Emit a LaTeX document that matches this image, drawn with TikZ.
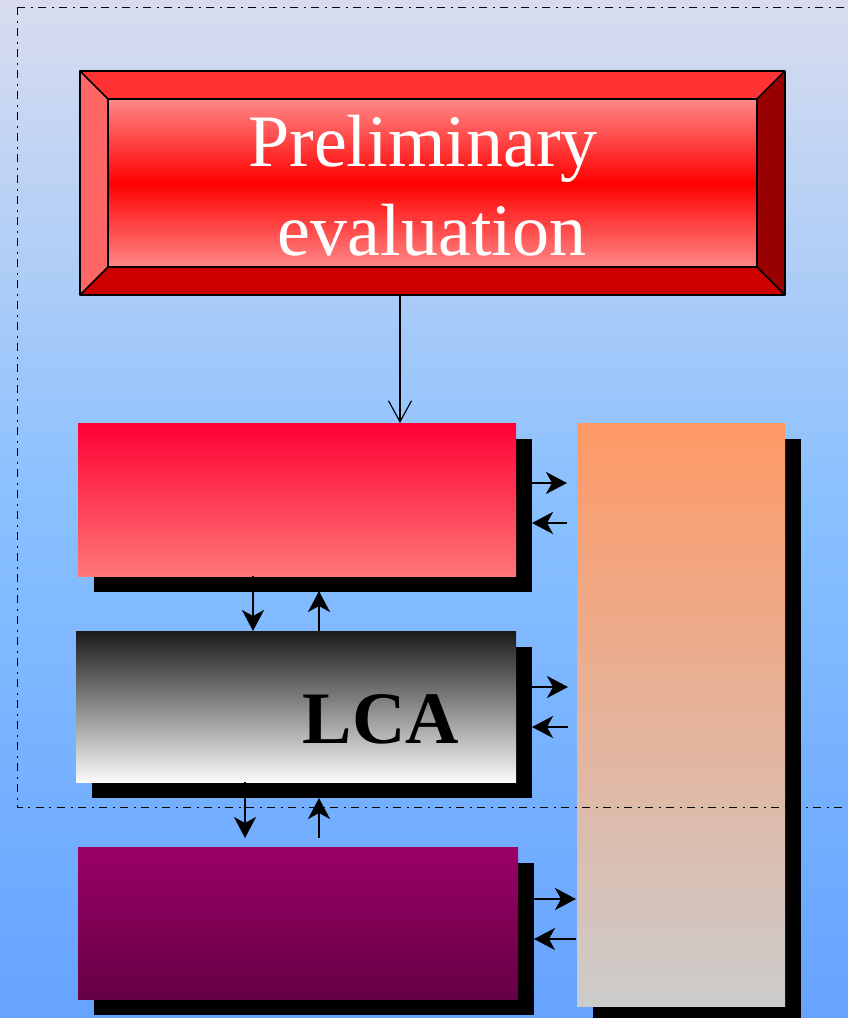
\documentclass[tikz,border=0pt]{standalone}
\usepackage{fontspec}
\setmainfont{Liberation Serif}
\usetikzlibrary{arrows.meta,shadows}
\definecolor{bgtop}{HTML}{D9DCEE}
\definecolor{bgmid}{HTML}{88C0FF}
\definecolor{bgbot}{HTML}{66A3FF}
\definecolor{bevtop}{HTML}{FF3333}
\definecolor{bevbot}{HTML}{CC0000}
\definecolor{bevleft}{HTML}{FF6666}
\definecolor{bevright}{HTML}{990000}
\definecolor{facelight}{HTML}{FF8888}
\definecolor{facemid}{HTML}{FF0000}
\definecolor{redtop}{HTML}{FF0033}
\definecolor{redbot}{HTML}{FF7777}
\definecolor{greytop}{HTML}{1A1A1A}
\definecolor{greybot}{HTML}{FAFAFA}
\definecolor{purptop}{HTML}{990066}
\definecolor{purpbot}{HTML}{660044}
\definecolor{orangetop}{HTML}{FF9966}
\definecolor{orangebot}{HTML}{CCCCCC}
\pgfdeclareverticalshading{bgshade}{100bp}{color(0bp)=(bgbot); color(25bp)=(bgbot); color(50bp)=(bgmid); color(75bp)=(bgtop); color(100bp)=(bgtop)}
\pgfdeclareverticalshading{faceshade}{100bp}{color(0bp)=(facelight); color(25bp)=(facelight); color(50bp)=(facemid); color(75bp)=(facelight); color(100bp)=(facelight)}
\tikzset{
  boxnode/.style={rectangle, inner sep=0pt, outer sep=0pt, anchor=north west,
    general shadow={fill=black, shadow xshift=16pt, shadow yshift=-16pt}},
  bigtext/.style={font=\fontsize{74}{89}\selectfont, inner sep=0pt, anchor=base},
  flow/.style={line width=2pt, -{Stealth[length=21pt, width=22pt, inset=6pt]}},
  bevline/.style={line width=1.5pt, line join=round},
  frame/.style={line width=0.9pt, dash pattern=on 8pt off 5.5pt on 2pt off 5.5pt}
}
\begin{document}
\begin{tikzpicture}[x=1pt, y=-1pt]
\useasboundingbox (0,0) rectangle (848,1018);
\shade[shading=bgshade] (0,0) rectangle (848,1018);

% bevelled button
\node[rectangle, inner sep=0pt, outer sep=0pt, anchor=north west, minimum width=705pt, minimum height=224pt] (prelim) at (80,71) {};
\node[rectangle, inner sep=0pt, outer sep=0pt, anchor=north west, minimum width=649pt, minimum height=168pt, shading=faceshade] (face) at (108,99) {};
\fill[bevtop] (prelim.north west) -- (prelim.north east) -- (face.north east) -- (face.north west) -- cycle;
\fill[bevbot] (prelim.south west) -- (prelim.south east) -- (face.south east) -- (face.south west) -- cycle;
\fill[bevleft] (prelim.north west) -- (face.north west) -- (face.south west) -- (prelim.south west) -- cycle;
\fill[bevright] (prelim.north east) -- (face.north east) -- (face.south east) -- (prelim.south east) -- cycle;
\draw[bevline] (prelim.north west) rectangle (prelim.south east);
\draw[bevline] (face.north west) rectangle (face.south east);
\draw[bevline] (prelim.north west) -- (face.north west);
\draw[bevline] (prelim.north east) -- (face.north east);
\draw[bevline] (prelim.south west) -- (face.south west);
\draw[bevline] (prelim.south east) -- (face.south east);
\node[bigtext, text=white] (t1) at (423,166) {Preliminary};
\node[bigtext, text=white] (t2) at (432,255) {evaluation};

% boxes
\node[boxnode, minimum width=438pt, minimum height=153pt, top color=redtop, bottom color=redbot] (box1) at (78,423) {};
\node[boxnode, minimum width=440pt, minimum height=151pt, top color=greytop, bottom color=greybot] (box2) at (76,631) {};
\node[boxnode, minimum width=440pt, minimum height=152pt, top color=purptop, bottom color=purpbot] (box3) at (78,847) {};
\node[boxnode, minimum width=208pt, minimum height=583pt, top color=orangetop, bottom color=orangebot] (side) at (577,423) {};
\node[bigtext, font=\fontsize{74}{89}\selectfont\bfseries] (lca) at (381,743) {LCA};

% top arrow
\draw[line width=1.2pt, -{Straight Barb[length=21pt, width=23pt]}] (prelim.south -| 400,0) -- (box1.north -| 400,0);

% horizontal arrows
\draw[flow, shorten >=10pt] (box1.east |- 0,483) -- (side.west |- 0,483);
\draw[flow, shorten <=10pt, shorten >=16pt] (side.west |- 0,523) -- (box1.east |- 0,523);
\draw[flow, shorten >=9pt] (box2.east |- 0,687) -- (side.west |- 0,687);
\draw[flow, shorten <=9pt, shorten >=16pt] (side.west |- 0,727) -- (box2.east |- 0,727);
\draw[flow, shorten >=1pt] (box3.east |- 0,899) -- (side.west |- 0,899);
\draw[flow, shorten <=1pt, shorten >=16pt] (side.west |- 0,939) -- (box3.east |- 0,939);

% vertical arrows
\draw[flow] (box1.south -| 253,0) -- (box2.north -| 253,0);
\draw[flow, shorten >=15pt] (box2.north -| 319,0) -- (box1.south -| 319,0);
\draw[flow, shorten >=9pt] (box2.south -| 245,0) -- (box3.north -| 245,0);
\draw[flow, shorten <=9pt, shorten >=16pt] (box3.north -| 319,0) -- (box2.south -| 319,0);

% dash-dot frame
\draw[frame] (17,7) rectangle (880,807);
\end{tikzpicture}
\end{document}
